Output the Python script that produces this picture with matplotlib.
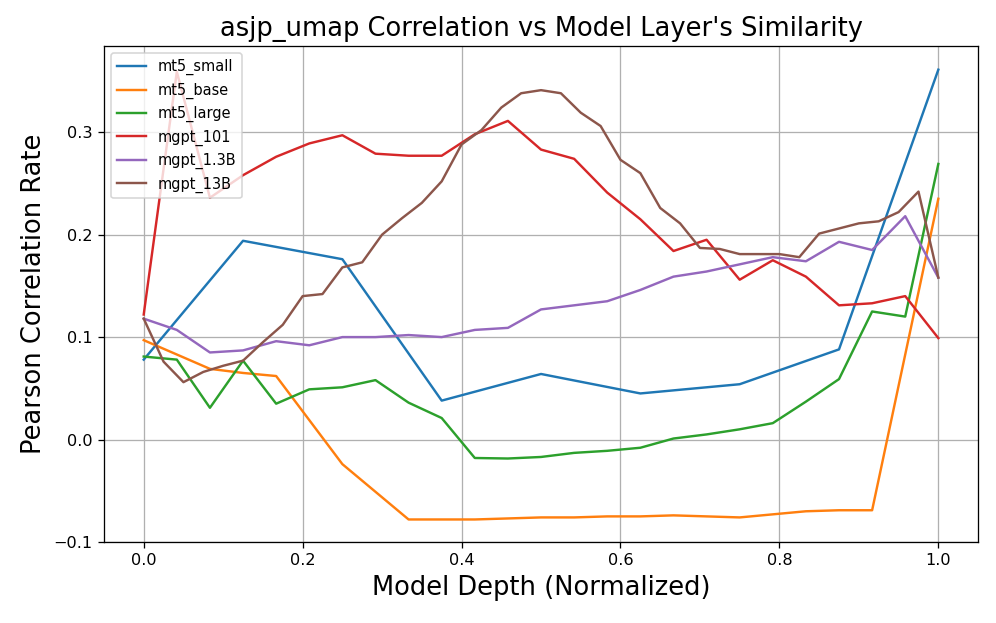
import numpy as np
import matplotlib.pyplot as plt

# значения
mt5_small = [0.078, 0.194, 0.176, 0.038, 0.064, 0.045, 0.054, 0.088, 0.361]
mt5_base = [0.097, 0.083, 0.069, 0.065, 0.062, 0.019, -0.024, -0.051, -0.078,
            -0.078, -0.078, -0.077, -0.076, -0.076, -0.075, -0.075, -0.074,
            -0.075, -0.076, -0.073, -0.070, -0.069, -0.069, 0.083, 0.235]
mt5_large = [0.081, 0.078, 0.031, 0.077, 0.035, 0.049, 0.051, 0.058, 0.036,
             0.021, -0.018, -0.0185, -0.017, -0.013, -0.011, -0.008, 0.001,
             0.005, 0.010, 0.016, 0.037, 0.059, 0.125, 0.120, 0.269]
mgpt_101 = [0.122, 0.359, 0.236, 0.258, 0.276, 0.289, 0.297, 0.279, 0.277,
            0.277, 0.298, 0.311, 0.283, 0.274, 0.241, 0.215, 0.184, 0.195,
            0.156, 0.175, 0.159, 0.131, 0.133, 0.140, 0.099]
mgpt_1_3b = [0.118, 0.107, 0.085, 0.087, 0.096, 0.092, 0.100, 0.100, 0.102,
             0.100, 0.107, 0.109, 0.127, 0.131, 0.135, 0.146, 0.159, 0.164,
             0.171, 0.178, 0.174, 0.193, 0.185, 0.218, 0.158]
mgpt_13b = [0.118, 0.076, 0.056, 0.066, 0.072, 0.077, 0.095, 0.112, 0.140,
            0.142, 0.168, 0.173, 0.200, 0.216, 0.231, 0.252, 0.288, 0.302,
            0.324, 0.338, 0.341, 0.338, 0.319, 0.306, 0.273, 0.260, 0.226,
            0.211, 0.187, 0.186, 0.181, 0.181, 0.181, 0.178, 0.201, 0.206,
            0.211, 0.213, 0.222, 0.242, 0.158]

series = {
    "mt5_small": mt5_small,
    "mt5_base": mt5_base,
    "mt5_large": mt5_large,
    "mgpt_101": mgpt_101,
    "mgpt_1.3B": mgpt_1_3b,
    "mgpt_13B": mgpt_13b,
}

dpi = 116
fig = plt.figure(figsize=(996 / dpi, 623 / dpi), dpi=dpi)
ax = fig.add_axes([0.1044, 0.130, 0.8776, 0.796])
for name, vals in series.items():
    depth = np.linspace(0, 1, len(vals))
    ax.plot(depth, vals, label=name)

ax.set_ylim(-0.1, 0.384)
ax.set_title("asjp_umap Correlation vs Model Layer's Similarity", fontsize=16)
ax.set_xlabel("Model Depth (Normalized)", fontsize=16)
ax.set_ylabel("Pearson Correlation Rate", fontsize=16)
ax.legend(loc="upper left", fontsize=9)
ax.grid(True)
fig.savefig("out.png", dpi=dpi)
